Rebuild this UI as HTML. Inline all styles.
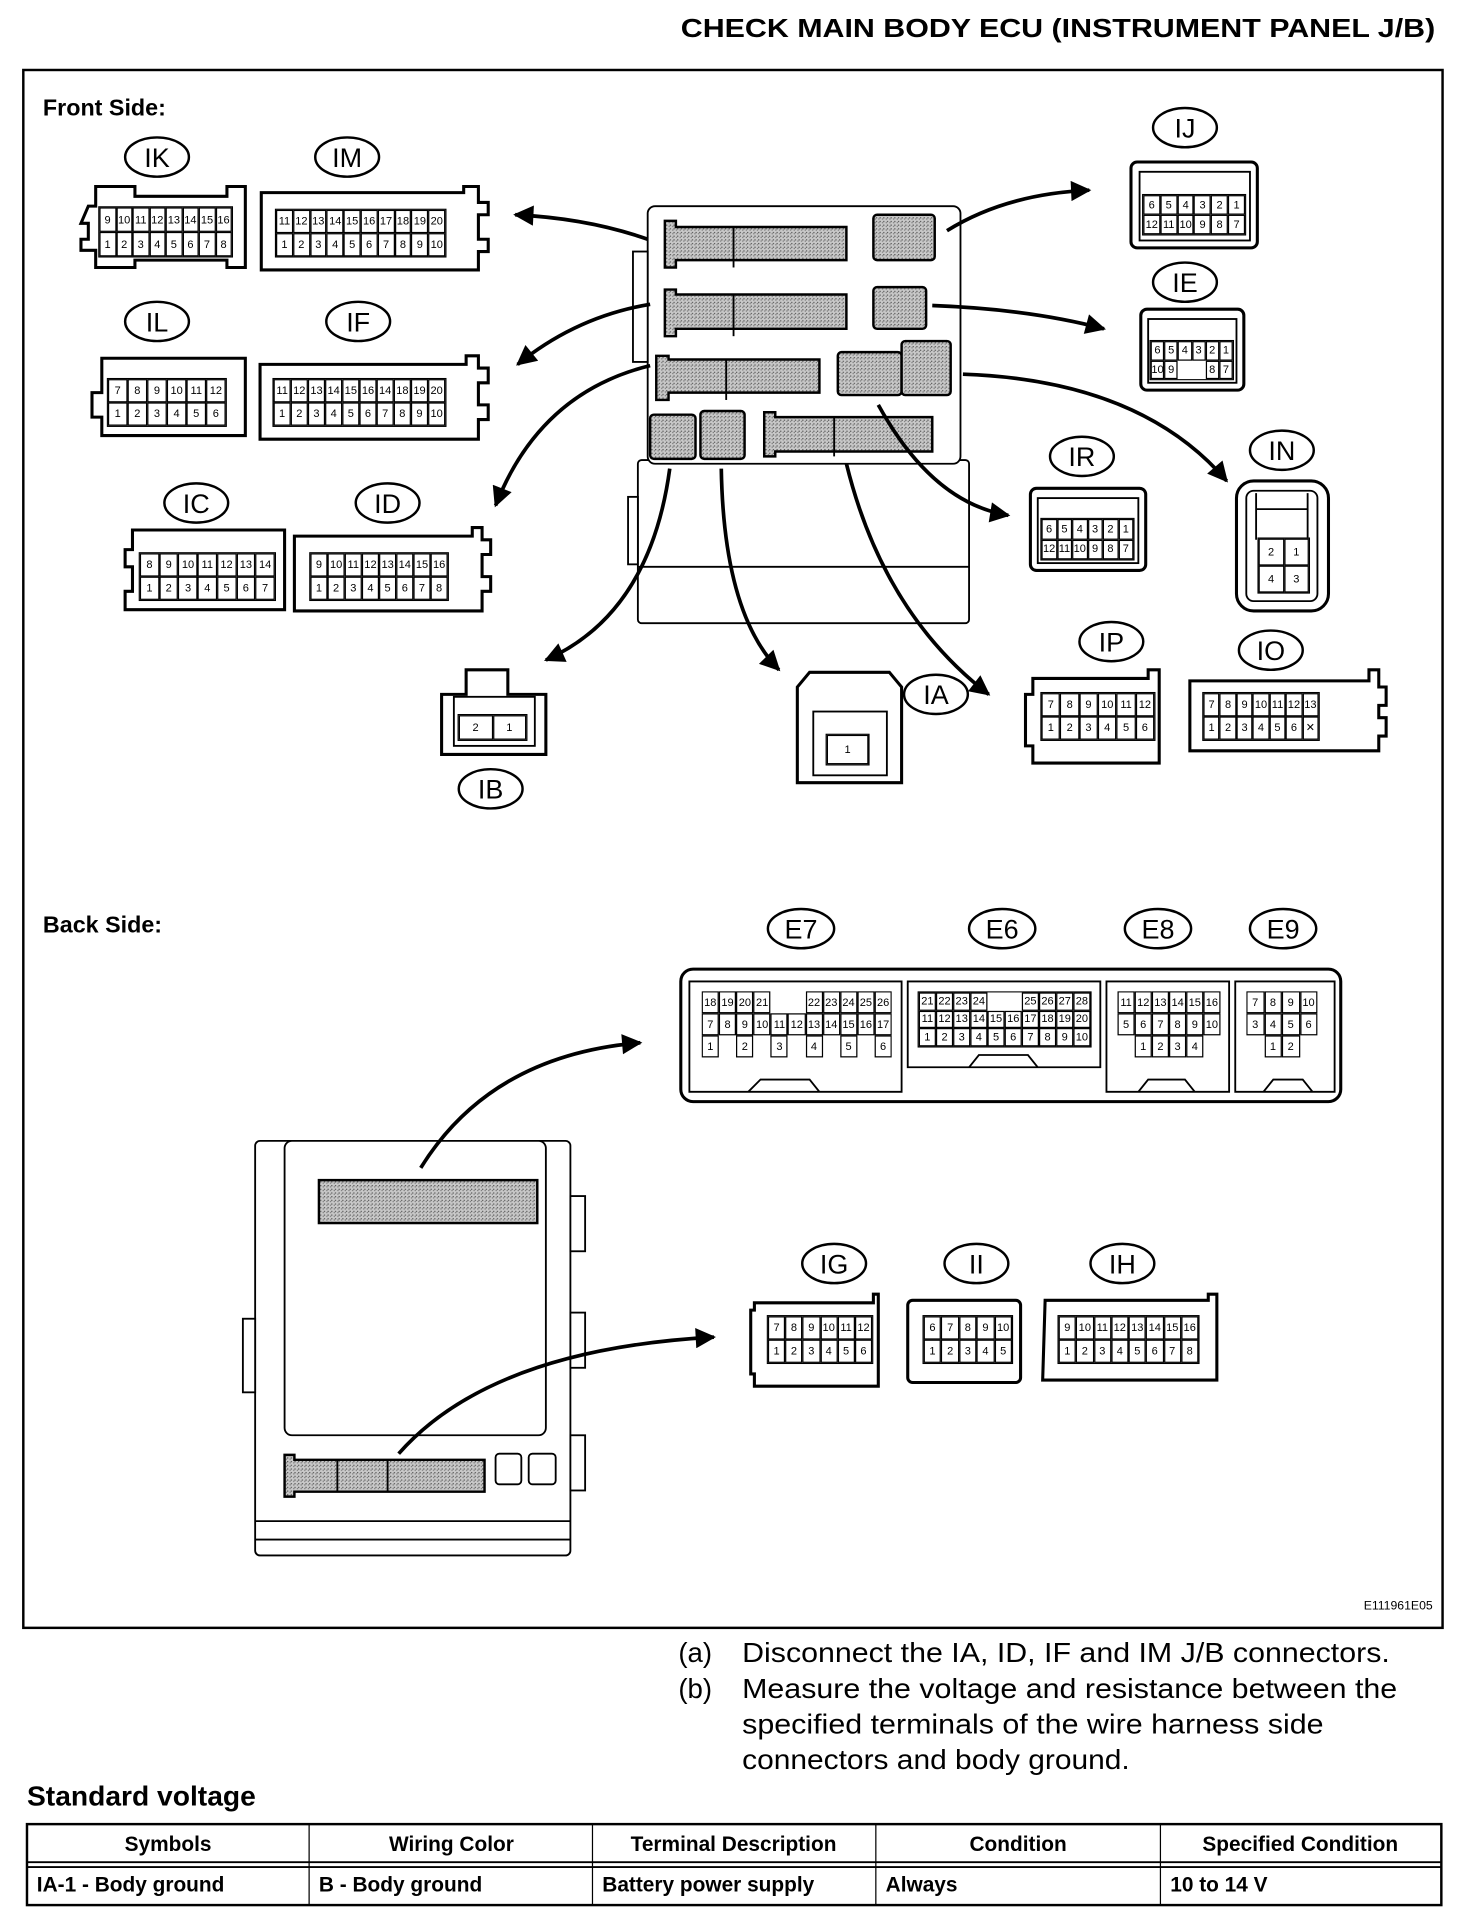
<!DOCTYPE html>
<html><head><meta charset="utf-8"><style>
html,body{margin:0;padding:0;background:#fff}
svg{display:block}
.g{display:grid;grid-auto-flow:row;width:100%;height:100%;box-sizing:border-box;border:1px solid #000;font:9px "Liberation Sans",sans-serif;color:#000;background:#fff}
.g span{border:0.6px solid #000;display:flex;align-items:center;justify-content:center;overflow:hidden;line-height:1}
.g span.e{border:none;background:transparent}
.lb{font:22px "Liberation Sans",sans-serif;text-anchor:middle}
</style></head><body>
<svg width="1472" height="1926" viewBox="0 0 1200 1570" xmlns="http://www.w3.org/2000/svg">
<defs>
<marker id="ah" viewBox="0 0 10 10" refX="9" refY="5" markerWidth="8" markerHeight="5.5" orient="auto" markerUnits="strokeWidth"><path d="M0,0L10,5L0,10z" fill="#000"/></marker>
<pattern id="dots" width="3" height="3" patternUnits="userSpaceOnUse"><rect width="3" height="3" fill="#c8c8c8"/><rect width="1" height="1" fill="#555"/><rect x="2" y="1" width="1" height="1" fill="#777"/></pattern>
</defs>
<text x="555" y="30" textLength="615" lengthAdjust="spacingAndGlyphs" font-family="Liberation Sans" font-weight="bold" font-size="21">CHECK MAIN BODY ECU (INSTRUMENT PANEL J/B)</text>
<rect x="19" y="57" width="1157" height="1270" fill="none" stroke="#000" stroke-width="2"/>
<text x="35" y="94" font-family="Liberation Sans" font-weight="bold" font-size="19">Front Side:</text>
<text x="35" y="760" font-family="Liberation Sans" font-weight="bold" font-size="19">Back Side:</text>

<g fill="none" stroke="#000" stroke-width="2">
<ellipse cx="128" cy="128" rx="26" ry="16"/><ellipse cx="283" cy="128" rx="26" ry="16"/>
<ellipse cx="128" cy="262" rx="26" ry="16"/><ellipse cx="292" cy="262" rx="26" ry="16"/>
<ellipse cx="160" cy="410" rx="26" ry="16"/><ellipse cx="316" cy="410" rx="26" ry="16"/>
<ellipse cx="966" cy="104" rx="26" ry="16"/><ellipse cx="966" cy="230" rx="26" ry="16"/>
<ellipse cx="882" cy="372" rx="26" ry="16"/><ellipse cx="1045" cy="367" rx="26" ry="16"/>
<ellipse cx="906" cy="523" rx="26" ry="16"/><ellipse cx="1036" cy="530" rx="26" ry="16"/>
<ellipse cx="400" cy="643" rx="26" ry="16"/><ellipse cx="763" cy="566" rx="26" ry="16"/>
<ellipse cx="653" cy="757" rx="27" ry="16"/><ellipse cx="817" cy="757" rx="27" ry="16"/>
<ellipse cx="944" cy="757" rx="27" ry="16"/><ellipse cx="1046" cy="757" rx="27" ry="16"/>
<ellipse cx="680" cy="1030" rx="26" ry="16"/><ellipse cx="796" cy="1030" rx="26" ry="16"/><ellipse cx="915" cy="1030" rx="26" ry="16"/>
</g>
<g class="lb">
<text x="128" y="136">IK</text><text x="283" y="136">IM</text><text x="128" y="270">IL</text><text x="292" y="270">IF</text>
<text x="160" y="418">IC</text><text x="316" y="418">ID</text><text x="966" y="112">IJ</text><text x="966" y="238">IE</text>
<text x="882" y="380">IR</text><text x="1045" y="375">IN</text><text x="906" y="531">IP</text><text x="1036" y="538">IO</text>
<text x="400" y="651">IB</text><text x="763" y="574">IA</text>
<text x="653" y="765">E7</text><text x="817" y="765">E6</text><text x="944" y="765">E8</text><text x="1046" y="765">E9</text>
<text x="680" y="1038">IG</text><text x="796" y="1038">II</text><text x="915" y="1038">IH</text>
</g>

<g fill="#fff" stroke="#000" stroke-width="2.5">
<path d="M72,168 H78 V152 H110 V160 H185 V152 H200 V218 H185 V212 H110 V218 H78 V204 H66 V195 H72 V182 H66 Z"/>
<path d="M213,157 H378 V152 H390 V165 H398 V175 H390 V195 H398 V205 H390 V220 H213 Z"/>
<path d="M83,292 H200 V355 H83 V340 H75 V320 H83 Z"/>
<path d="M212,297 H380 V290 H390 V300 H398 V312 H390 V330 H398 V342 H390 V358 H212 Z"/>
<path d="M108,432 H232 V497 H102 V482 H108 V462 H102 V448 H108 Z"/>
<path d="M240,437 H385 V430 H393 V440 H400 V452 H393 V470 H400 V482 H393 V498 H240 Z"/>
<rect x="922" y="132" width="103" height="70" rx="5"/>
<rect x="930" y="252" width="84" height="66" rx="5"/>
<rect x="840" y="398" width="94" height="67" rx="5"/>
<rect x="1008" y="392" width="75" height="106" rx="14"/>
<path d="M842,553 H936 V546 H945 V622 H842 V608 H836 V566 H842 Z"/>
<path d="M970,555 H1116 V546 H1124 V560 H1130 V575 H1124 V585 H1130 V600 H1124 V612 H970 Z"/>
<path d="M360,566 H380 V546 H414 V566 H445 V615 H360 Z"/>
<path d="M650,576 V560 L660,548 H725 L735,560 V576 V638 H650 Z"/>
<rect x="555" y="790" width="538" height="108" rx="10"/>
<path d="M615,1062 H712 V1055 H716 V1130 H615 V1120 H612 V1068 H615 Z"/>
<rect x="740" y="1060" width="92" height="67" rx="4"/>
<path d="M852,1060 H985 V1055 H992 V1125 H850 Z"/>
</g>
<g fill="none" stroke="#000" stroke-width="1.5">
<rect x="929" y="140" width="90" height="56"/>
<rect x="936" y="260" width="72" height="52"/>
<rect x="846" y="406" width="82" height="53"/>
<rect x="1016" y="400" width="58" height="90" rx="6"/>
<path d="M1024,402 V440 M1066,402 V440 M1024,415 H1066"/>
<rect x="663" y="580" width="60" height="52"/>
<rect x="370" y="568" width="66" height="40"/>
<path d="M562,800 H735 V890 H562 Z M740,800 H897 V870 H740 Z M902,800 H1002 V890 H902 Z M1007,800 H1088 V890 H1007 Z"/>
<path d="M610,890 L620,880 H660 L668,890 M790,870 L798,860 H838 L846,870 M928,890 L936,880 H966 L974,890 M1030,890 L1038,880 H1062 L1070,890"/>
</g>

<foreignObject x="80" y="168" width="110" height="42"><div xmlns="http://www.w3.org/1999/xhtml" class="g" style="grid-template-columns:repeat(8,1fr)"><span>9</span><span>10</span><span>11</span><span>12</span><span>13</span><span>14</span><span>15</span><span>16</span><span>1</span><span>2</span><span>3</span><span>4</span><span>5</span><span>6</span><span>7</span><span>8</span></div></foreignObject>
<foreignObject x="224" y="170" width="140" height="40"><div xmlns="http://www.w3.org/1999/xhtml" class="g" style="grid-template-columns:repeat(10,1fr)"><span>11</span><span>12</span><span>13</span><span>14</span><span>15</span><span>16</span><span>17</span><span>18</span><span>19</span><span>20</span><span>1</span><span>2</span><span>3</span><span>4</span><span>5</span><span>6</span><span>7</span><span>8</span><span>9</span><span>10</span></div></foreignObject>
<foreignObject x="87" y="308" width="98" height="40"><div xmlns="http://www.w3.org/1999/xhtml" class="g" style="grid-template-columns:repeat(6,1fr)"><span>7</span><span>8</span><span>9</span><span>10</span><span>11</span><span>12</span><span>1</span><span>2</span><span>3</span><span>4</span><span>5</span><span>6</span></div></foreignObject>
<foreignObject x="222" y="308" width="142" height="40"><div xmlns="http://www.w3.org/1999/xhtml" class="g" style="grid-template-columns:repeat(10,1fr)"><span>11</span><span>12</span><span>13</span><span>14</span><span>15</span><span>16</span><span>14</span><span>18</span><span>19</span><span>20</span><span>1</span><span>2</span><span>3</span><span>4</span><span>5</span><span>6</span><span>7</span><span>8</span><span>9</span><span>10</span></div></foreignObject>
<foreignObject x="113" y="450" width="112" height="40"><div xmlns="http://www.w3.org/1999/xhtml" class="g" style="grid-template-columns:repeat(7,1fr)"><span>8</span><span>9</span><span>10</span><span>11</span><span>12</span><span>13</span><span>14</span><span>1</span><span>2</span><span>3</span><span>4</span><span>5</span><span>6</span><span>7</span></div></foreignObject>
<foreignObject x="252" y="450" width="114" height="40"><div xmlns="http://www.w3.org/1999/xhtml" class="g" style="grid-template-columns:repeat(8,1fr)"><span>9</span><span>10</span><span>11</span><span>12</span><span>13</span><span>14</span><span>15</span><span>16</span><span>1</span><span>2</span><span>3</span><span>4</span><span>5</span><span>6</span><span>7</span><span>8</span></div></foreignObject>
<foreignObject x="931" y="158" width="85" height="34"><div xmlns="http://www.w3.org/1999/xhtml" class="g" style="grid-template-columns:repeat(6,1fr)"><span>6</span><span>5</span><span>4</span><span>3</span><span>2</span><span>1</span><span>12</span><span>11</span><span>10</span><span>9</span><span>8</span><span>7</span></div></foreignObject>
<foreignObject x="937" y="277" width="69" height="33"><div xmlns="http://www.w3.org/1999/xhtml" class="g" style="grid-template-columns:repeat(6,1fr)"><span>6</span><span>5</span><span>4</span><span>3</span><span>2</span><span>1</span><span>10</span><span>9</span><span class="e"></span><span class="e"></span><span>8</span><span>7</span></div></foreignObject>
<foreignObject x="848" y="422" width="77" height="35"><div xmlns="http://www.w3.org/1999/xhtml" class="g" style="grid-template-columns:repeat(6,1fr)"><span>6</span><span>5</span><span>4</span><span>3</span><span>2</span><span>1</span><span>12</span><span>11</span><span>10</span><span>9</span><span>8</span><span>7</span></div></foreignObject>
<foreignObject x="1025" y="438" width="43" height="46"><div xmlns="http://www.w3.org/1999/xhtml" class="g" style="grid-template-columns:repeat(2,1fr)"><span>2</span><span>1</span><span>4</span><span>3</span></div></foreignObject>
<foreignObject x="848" y="564" width="94" height="40"><div xmlns="http://www.w3.org/1999/xhtml" class="g" style="grid-template-columns:repeat(6,1fr)"><span>7</span><span>8</span><span>9</span><span>10</span><span>11</span><span>12</span><span>1</span><span>2</span><span>3</span><span>4</span><span>5</span><span>6</span></div></foreignObject>
<foreignObject x="980" y="564" width="96" height="40"><div xmlns="http://www.w3.org/1999/xhtml" class="g" style="grid-template-columns:repeat(7,1fr)"><span>7</span><span>8</span><span>9</span><span>10</span><span>11</span><span>12</span><span>13</span><span>1</span><span>2</span><span>3</span><span>4</span><span>5</span><span>6</span><span>&#x2715;</span></div></foreignObject>
<foreignObject x="373" y="582" width="57" height="22"><div xmlns="http://www.w3.org/1999/xhtml" class="g" style="grid-template-columns:repeat(2,1fr)"><span>2</span><span>1</span></div></foreignObject>
<foreignObject x="673" y="598" width="36" height="26"><div xmlns="http://www.w3.org/1999/xhtml" class="g" style="grid-template-columns:1fr"><span>1</span></div></foreignObject>
<foreignObject x="572" y="808" width="155" height="54"><div xmlns="http://www.w3.org/1999/xhtml" class="g" style="grid-template-columns:repeat(11,1fr);border:none"><span>18</span><span>19</span><span>20</span><span>21</span><span class="e"></span><span class="e"></span><span>22</span><span>23</span><span>24</span><span>25</span><span>26</span><span>7</span><span>8</span><span>9</span><span>10</span><span>11</span><span>12</span><span>13</span><span>14</span><span>15</span><span>16</span><span>17</span><span>1</span><span class="e"></span><span>2</span><span class="e"></span><span>3</span><span class="e"></span><span>4</span><span class="e"></span><span>5</span><span class="e"></span><span>6</span></div></foreignObject>
<foreignObject x="748" y="808" width="142" height="46"><div xmlns="http://www.w3.org/1999/xhtml" class="g" style="grid-template-columns:repeat(10,1fr)"><span>21</span><span>22</span><span>23</span><span>24</span><span class="e"></span><span class="e"></span><span>25</span><span>26</span><span>27</span><span>28</span><span>11</span><span>12</span><span>13</span><span>14</span><span>15</span><span>16</span><span>17</span><span>18</span><span>19</span><span>20</span><span>1</span><span>2</span><span>3</span><span>4</span><span>5</span><span>6</span><span>7</span><span>8</span><span>9</span><span>10</span></div></foreignObject>
<foreignObject x="911" y="808" width="84" height="54"><div xmlns="http://www.w3.org/1999/xhtml" class="g" style="grid-template-columns:repeat(6,1fr);border:none"><span>11</span><span>12</span><span>13</span><span>14</span><span>15</span><span>16</span><span>5</span><span>6</span><span>7</span><span>8</span><span>9</span><span>10</span><span class="e"></span><span>1</span><span>2</span><span>3</span><span>4</span><span class="e"></span></div></foreignObject>
<foreignObject x="1016" y="808" width="58" height="54"><div xmlns="http://www.w3.org/1999/xhtml" class="g" style="grid-template-columns:repeat(4,1fr);border:none"><span>7</span><span>8</span><span>9</span><span>10</span><span>3</span><span>4</span><span>5</span><span>6</span><span class="e"></span><span>1</span><span>2</span><span class="e"></span></div></foreignObject>
<foreignObject x="625" y="1072" width="87" height="40"><div xmlns="http://www.w3.org/1999/xhtml" class="g" style="grid-template-columns:repeat(6,1fr)"><span>7</span><span>8</span><span>9</span><span>10</span><span>11</span><span>12</span><span>1</span><span>2</span><span>3</span><span>4</span><span>5</span><span>6</span></div></foreignObject>
<foreignObject x="752" y="1072" width="74" height="40"><div xmlns="http://www.w3.org/1999/xhtml" class="g" style="grid-template-columns:repeat(5,1fr)"><span>6</span><span>7</span><span>8</span><span>9</span><span>10</span><span>1</span><span>2</span><span>3</span><span>4</span><span>5</span></div></foreignObject>
<foreignObject x="862" y="1072" width="116" height="40"><div xmlns="http://www.w3.org/1999/xhtml" class="g" style="grid-template-columns:repeat(8,1fr)"><span>9</span><span>10</span><span>11</span><span>12</span><span>13</span><span>14</span><span>15</span><span>16</span><span>1</span><span>2</span><span>3</span><span>4</span><span>5</span><span>6</span><span>7</span><span>8</span></div></foreignObject>

<g fill="#fff" stroke="#000" stroke-width="1.5">
<rect x="520" y="375" width="270" height="133" rx="3"/>
<line x1="520" y1="462" x2="790" y2="462"/>
<rect x="528" y="168" width="255" height="210" rx="6"/>
<rect x="516" y="205" width="12" height="90"/>
<rect x="512" y="405" width="8" height="55"/>
</g>
<g fill="url(#dots)" stroke="#000" stroke-width="2">
<path d="M542,180 H551 V185 H690 V212 H551 V218 H542 Z"/>
<path d="M542,236 H551 V240 H690 V268 H551 V274 H542 Z"/>
<path d="M535,290 H545 V293 H668 V320 H545 V326 H535 Z"/>
<path d="M623,336 H632 V340 H760 V368 H632 V372 H623 Z"/>
<rect x="712" y="175" width="50" height="37" rx="3"/>
<rect x="712" y="234" width="43" height="34" rx="3"/>
<rect x="683" y="287" width="52" height="35" rx="3"/>
<rect x="735" y="278" width="40" height="44" rx="3"/>
<rect x="530" y="338" width="37" height="36" rx="3"/>
<rect x="571" y="335" width="36" height="39" rx="3"/>
</g>
<g stroke="#000" stroke-width="1.5"><line x1="598" y1="185" x2="598" y2="218"/><line x1="598" y1="240" x2="598" y2="274"/><line x1="592" y1="293" x2="592" y2="326"/><line x1="680" y1="340" x2="680" y2="372"/></g>

<g fill="#fff" stroke="#000" stroke-width="1.5">
<rect x="208" y="930" width="257" height="338" rx="4"/>
<rect x="232" y="930" width="213" height="240" rx="6"/>
<line x1="208" y1="1240" x2="465" y2="1240"/><line x1="208" y1="1255" x2="465" y2="1255"/>
<rect x="465" y="975" width="12" height="45"/><rect x="465" y="1070" width="12" height="45"/><rect x="465" y="1170" width="12" height="45"/>
<rect x="198" y="1075" width="10" height="60"/>
<rect x="404" y="1185" width="21" height="25" rx="3"/><rect x="431" y="1185" width="22" height="25" rx="3"/>
</g>
<g fill="url(#dots)" stroke="#000" stroke-width="2">
<rect x="260" y="962" width="178" height="35"/>
<path d="M232,1186 H240 V1190 H395 V1216 H240 V1220 H232 Z"/>
</g>
<g stroke="#000" stroke-width="1.5"><line x1="275" y1="1190" x2="275" y2="1216"/><line x1="316" y1="1190" x2="316" y2="1216"/></g>

<g fill="none" stroke="#000" stroke-width="3" marker-end="url(#ah)">
<path d="M528,195 Q480,178 420,175"/>
<path d="M530,248 Q470,258 422,297"/>
<path d="M530,298 Q440,320 404,412"/>
<path d="M546,382 Q530,500 445,538"/>
<path d="M588,382 Q590,500 635,546"/>
<path d="M690,378 Q720,500 806,566"/>
<path d="M716,330 Q760,410 822,420"/>
<path d="M785,305 Q930,310 1000,392"/>
<path d="M760,249 Q840,252 900,268"/>
<path d="M772,188 Q820,158 888,155"/>
<path d="M343,952 Q400,860 522,850"/>
<path d="M325,1185 Q400,1100 582,1090"/>
</g>

<text x="1168" y="1312" font-family="Liberation Sans" font-size="10" text-anchor="end">E111961E05</text>
<g font-family="Liberation Sans" font-size="22.5">
<text x="553" y="1355">(a)</text><text x="605" y="1355" textLength="528" lengthAdjust="spacingAndGlyphs">Disconnect the IA, ID, IF and IM J/B connectors.</text>
<text x="553" y="1384">(b)</text><text x="605" y="1384" textLength="534" lengthAdjust="spacingAndGlyphs">Measure the voltage and resistance between the</text>
<text x="605" y="1413" textLength="474" lengthAdjust="spacingAndGlyphs">specified terminals of the wire harness side</text>
<text x="605" y="1442" textLength="316" lengthAdjust="spacingAndGlyphs">connectors and body ground.</text>
</g>
<text x="22" y="1472" font-family="Liberation Sans" font-weight="bold" font-size="23">Standard voltage</text>
<g fill="none" stroke="#000">
<rect x="22" y="1487" width="1153" height="66" stroke-width="2"/>
<line x1="22" y1="1518" x2="1175" y2="1518" stroke-width="1.5"/><line x1="22" y1="1522" x2="1175" y2="1522" stroke-width="1.5"/>
<line x1="252" y1="1487" x2="252" y2="1553"/><line x1="483" y1="1487" x2="483" y2="1553"/><line x1="714" y1="1487" x2="714" y2="1553"/><line x1="946" y1="1487" x2="946" y2="1553"/>
</g>
<g font-family="Liberation Sans" font-weight="bold" font-size="17">
<g text-anchor="middle"><text x="137" y="1509">Symbols</text><text x="368" y="1509">Wiring Color</text><text x="598" y="1509">Terminal Description</text><text x="830" y="1509">Condition</text><text x="1060" y="1509">Specified Condition</text></g>
<text x="30" y="1542">IA-1 - Body ground</text><text x="260" y="1542">B - Body ground</text><text x="491" y="1542">Battery power supply</text><text x="722" y="1542">Always</text><text x="954" y="1542">10 to 14 V</text>
</g>
</svg>
</body></html>
